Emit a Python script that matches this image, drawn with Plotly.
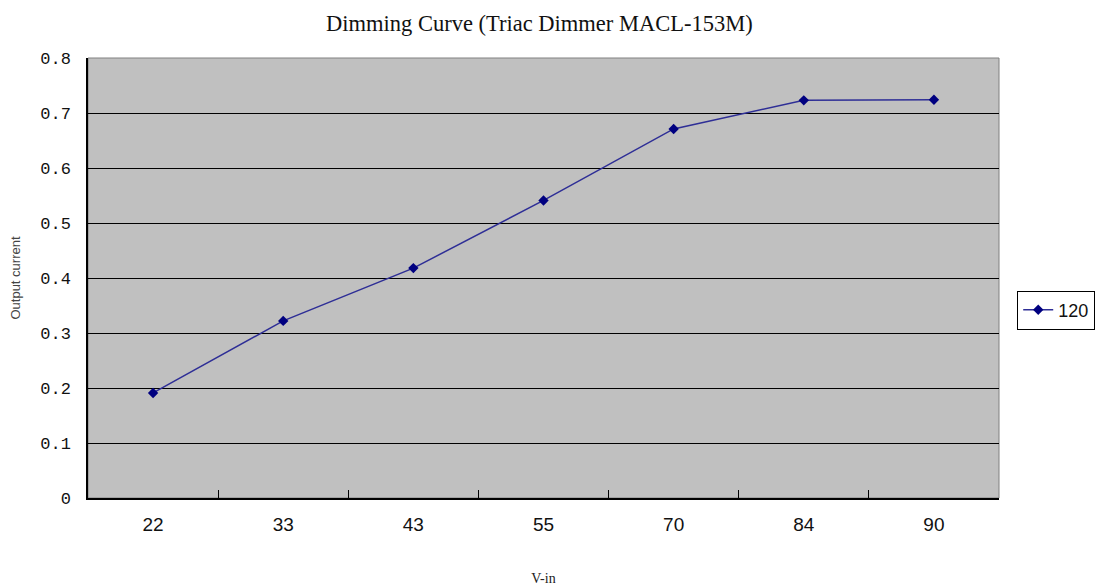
import plotly.graph_objects as go

categories = ["22", "33", "43", "55", "70", "84", "90"]
series_name = "120"
values = [0.191, 0.322, 0.418, 0.541, 0.671, 0.723, 0.724]
y_ticks = [0, 0.1, 0.2, 0.3, 0.4, 0.5, 0.6, 0.7, 0.8]
y_tick_text = ["0", "0.1", "0.2", "0.3", "0.4", "0.5", "0.6", "0.7", "0.8"]

fig = go.Figure()
fig.add_trace(go.Scatter(
    x=categories, y=values, name=series_name, mode="lines+markers",
    line=dict(color="#2e2e96", width=1.5),
    marker=dict(symbol="diamond", size=8, color="#000080"),
))

fig.update_layout(
    width=1099, height=580,
    margin=dict(l=80, r=108, t=50, b=90, autoexpand=False),
    paper_bgcolor="white",
    plot_bgcolor="#c0c0c0",
    font=dict(family="Liberation Serif", size=15, color="black"),
    title=dict(text="Dimming Curve (Triac Dimmer MACL-153M)", x=0.4955, xref="paper",
               xanchor="center", y=0.9745, yanchor="middle",
               font=dict(family="Liberation Serif", size=22.5, color="#111111")),
    showlegend=True,
    legend=dict(x=1.02, xanchor="left", y=0.427, yanchor="middle",
                bordercolor="black", borderwidth=1, bgcolor="white",
                font=dict(family="Liberation Sans", size=18, color="#111111"),
                itemwidth=30, tracegroupgap=0),
    xaxis=dict(type="category", categoryorder="array", categoryarray=categories,
               range=[-0.5, 6.5], tickson="boundaries", ticks="inside", ticklen=8,
               tickcolor="black", tickwidth=1, showgrid=False, zeroline=False,
               showline=True, linecolor="black", linewidth=1.5, mirror=False,
               automargin=False,
               title=dict(text="V-in", standoff=40,
                          font=dict(family="Liberation Serif", size=14, color="#222222")),
               tickfont=dict(family="Liberation Sans", size=19, color="#111111"),
               ticklabelstandoff=8),
    yaxis=dict(range=[0, 0.8], tickvals=y_ticks, ticktext=y_tick_text, ticks="",
               showgrid=True, gridcolor="black", gridwidth=1.2, zeroline=False,
               showline=True, linecolor="black", linewidth=1.5,
               automargin=False,
               title=dict(text="Output current", standoff=23,
                          font=dict(family="Liberation Sans", size=13, color="#444444")),
               tickfont=dict(family="Liberation Mono", size=17, color="#111111"),
               ticklabelstandoff=12),
    shapes=[dict(type="rect", xref="paper", yref="paper", x0=0, x1=1, y0=0, y1=1,
                 line=dict(color="#808080", width=1), layer="below")],
)

fig.write_html("out.html")
